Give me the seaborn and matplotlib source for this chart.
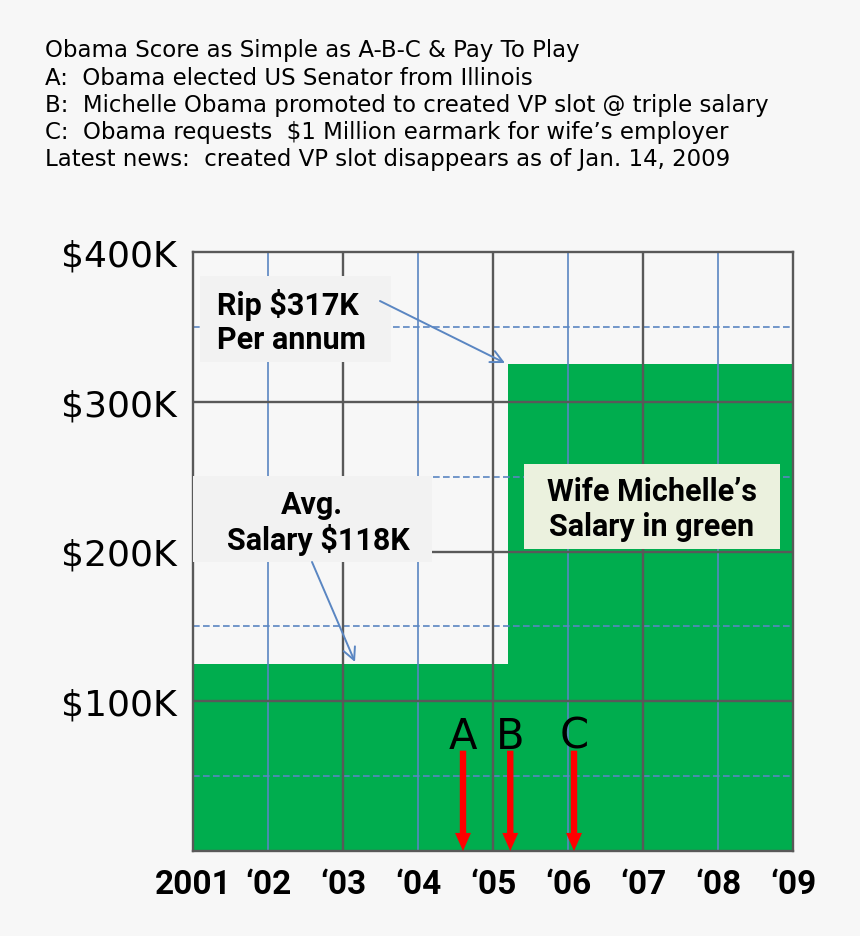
import matplotlib
matplotlib.use('Agg')
import matplotlib.pyplot as plt
from matplotlib.patches import Rectangle
import seaborn as sns

# Text and data
header_lines = [
    'Obama Score as Simple as A-B-C & Pay To Play',
    'A:  Obama elected US Senator from Illinois',
    'B:  Michelle Obama promoted to created VP slot @ triple salary',
    'C:  Obama requests  $1 Million earmark for wife\u2019s employer',
    'Latest news:  created VP slot disappears as of Jan. 14, 2009',
]
year_edges = [2001, 2005.2, 2009]
salary_year = [2001, 2005.2]
salary = [125000, 325000]
year_ticks = [2001, 2002, 2003, 2004, 2005, 2006, 2007, 2008, 2009]
year_labels = ['2001', '\u201802', '\u201803', '\u201804', '\u201805',
               '\u201806', '\u201807', '\u201808', '\u201809']
salary_ticks = [100000, 200000, 300000, 400000]
salary_labels = ['$100K', '$200K', '$300K', '$400K']
half_ticks = [50000, 150000, 250000, 350000]
event_names = ['A', 'B', 'C']
event_years = [2004.6, 2005.23, 2006.08]
event_top = 67000

bg = '#f7f7f7'
green = '#00ad4e'
dark = '#595959'
blue = '#5a86c2'
bold_font = ['Roboto', 'DejaVu Sans']

W, H = 860, 937


def fx(px):
    return px / W


def fy(py):
    return 1 - py / H


sns.set_style('white')
plt.rcParams['font.family'] = ['DejaVu Sans']
plt.rcParams['text.color'] = 'black'
plt.rcParams['xtick.color'] = 'black'
plt.rcParams['ytick.color'] = 'black'

fig = plt.figure(figsize=(8.6, 9.37), dpi=100, facecolor=bg)
ax = fig.add_axes([fx(193), fy(852), fx(793) - fx(193), fy(253) - fy(852)])
ax.set_facecolor(bg)

# green salary area
sns.histplot(x=salary_year, weights=salary, bins=year_edges, color=green,
             alpha=1, linewidth=0, ax=ax, zorder=1)
ax.set_xlim(2001, 2009)
ax.set_ylim(0, 400000)
ax.set_xlabel('')
ax.set_ylabel('')

# grid on top of the fill
for v in salary_ticks[:-1]:
    ax.axhline(v, color=dark, lw=1.7, zorder=3)
for v in half_ticks:
    ax.axhline(v, color=blue, lw=1.2, dashes=(4, 2), zorder=2)
for yr in year_ticks[2:-1:2]:
    ax.axvline(yr, color=dark, lw=1.7, zorder=3)
for yr in year_ticks[1::2]:
    ax.axvline(yr, color=blue, lw=1.2, zorder=2)
for s in ax.spines.values():
    s.set_visible(True)
    s.set_color(dark)
    s.set_linewidth(1.7)
    s.set_zorder(4)

ax.set_xticks(year_ticks, year_labels)
ax.set_yticks(salary_ticks, salary_labels)
ax.tick_params(axis='x', length=0, pad=12, labelsize=24)
ax.tick_params(axis='y', length=0, pad=12, labelsize=26)
for lab in ax.get_xticklabels():
    lab.set_family(bold_font)
    lab.set_fontweight('bold')

# red event arrows
for name, yr in zip(event_names, event_years):
    ax.annotate('', xy=(yr, 0), xytext=(yr, event_top),
                arrowprops=dict(facecolor='#ff0000', edgecolor='none', width=4.6,
                                headwidth=11.5, headlength=13, shrink=0),
                zorder=6)
    ax.text(yr, 69000, name, ha='center', va='baseline', fontsize=30, zorder=6)

# callout boxes
def box(x0, y0, x1, y1, color):
    ax.add_patch(Rectangle((fx(x0), fy(y1)), fx(x1) - fx(x0), fy(y0) - fy(y1),
                           transform=fig.transFigure, facecolor=color,
                           edgecolor='none', zorder=5, clip_on=False))


def label(x, y, s, ha='center'):
    ax.text(fx(x), fy(y), s, transform=fig.transFigure, ha=ha, va='center',
            fontsize=22, fontweight='bold', family=bold_font, zorder=6)


def pointer(x0, y0, x1, y1):
    ax.annotate('', xy=(fx(x1), fy(y1)), xytext=(fx(x0), fy(y0)),
                xycoords='figure fraction', textcoords='figure fraction',
                arrowprops=dict(arrowstyle='->', color=blue, lw=1.4,
                                mutation_scale=22, shrinkA=0, shrinkB=0),
                zorder=7)


box(200, 277, 391, 363, '#f2f2f2')
label(217, 305, 'Rip $317K', ha='left')
label(217, 340, 'Per annum', ha='left')
pointer(380, 302, 505, 364)

box(193, 477, 432, 563, '#f2f2f2')
label(312, 505, 'Avg.')
label(318, 540, 'Salary $118K')
pointer(312, 563, 355, 663)

box(524, 465, 780, 550, '#ebf1de')
label(652, 492, 'Wife Michelle\u2019s')
label(652, 527, 'Salary in green')

# header text
for i, line in enumerate(header_lines):
    fig.text(fx(45), fy(51 + 27.2 * i), line, ha='left', va='center',
             fontsize=16.5)

fig.savefig('out.png', dpi=100, facecolor=bg)
